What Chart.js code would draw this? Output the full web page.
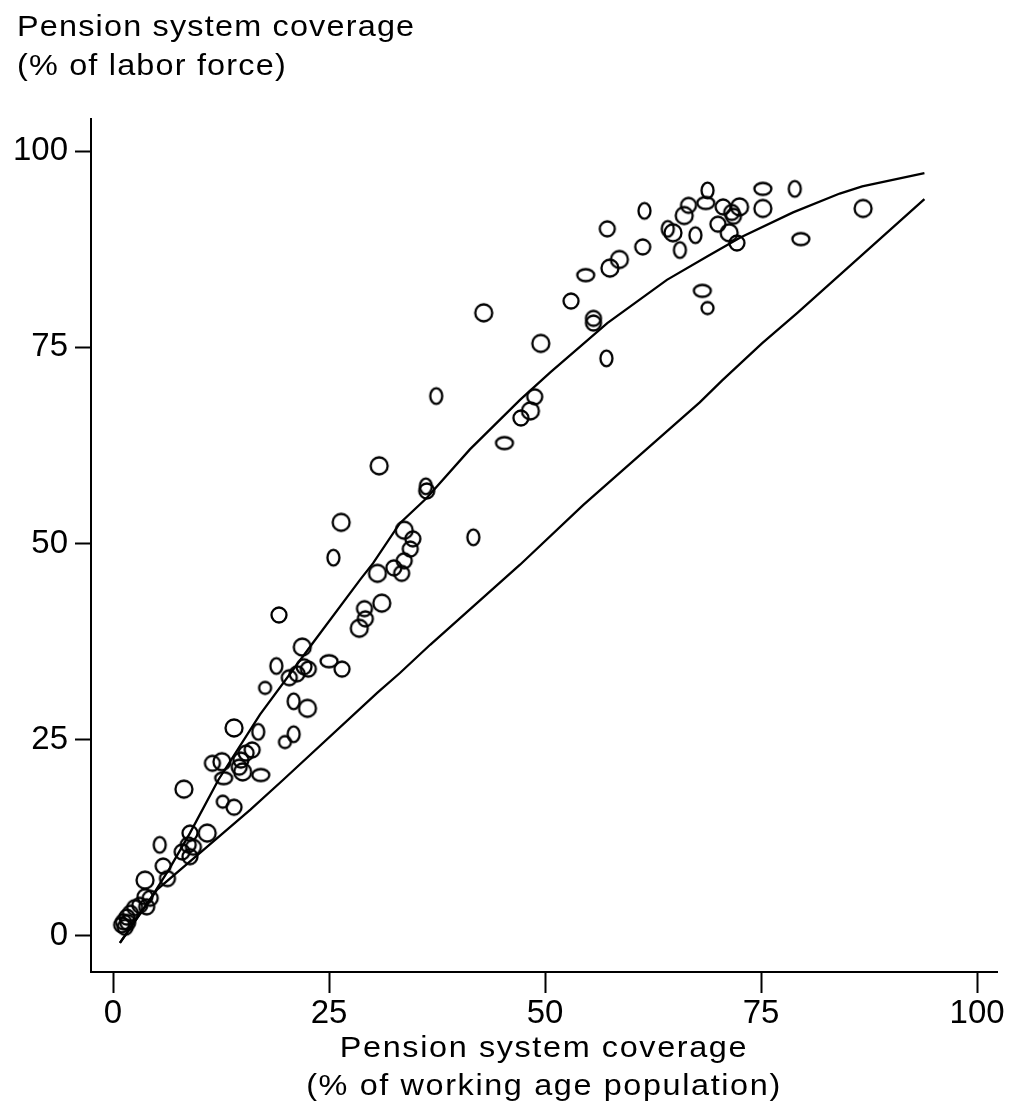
<!DOCTYPE html>
<html>
<head>
    <title>Pension system coverage</title>
    <script src="https://cdn.jsdelivr.net/npm/chart.js"></script>
    <style>
        body { margin: 0; background: #fff; }
        #wrap { position: relative; width: 1015px; height: 1109px; }
        .ttl { position: absolute; font-family: 'Liberation Sans', Arial, sans-serif; font-size: 30px;
               color: #000; white-space: nowrap; }
        #ytitle { left: 17px; top: 6px; line-height: 39px; letter-spacing: 1.1px;
                  transform: scaleX(1.08); transform-origin: left top; }
        #xtitle { left: 91px; width: 906px; top: 1028px; line-height: 38px; text-align: center; letter-spacing: 1.5px;
                  transform: scaleX(1.08); transform-origin: 453px 0; }
    </style>
</head>
<body>
<div id="wrap">
    <canvas id="covChart" width="1015" height="1109"></canvas>
    <div class="ttl" id="ytitle">Pension system coverage<br>(% of labor force)</div>
    <div class="ttl" id="xtitle">Pension system coverage<br>(% of working age population)</div>
</div>
<script>
// countries: coverage as % of working age population (x) vs % of labor force (y)
var coverX = [49.5, 53.0, 54.7, 55.6, 55.6, 57.1, 57.2, 57.5, 58.6, 61.3, 61.5, 64.2, 64.8, 65.6, 66.1, 66.6,
    67.4, 68.8, 68.6, 68.2, 68.8, 70.0, 70.6, 71.3, 71.6, 71.8, 72.5, 72.2, 75.2, 75.2, 78.9, 79.6, 86.8,
    42.9, 37.4, 30.8, 36.2, 36.3, 48.8, 48.3, 47.2, 45.3, 26.4, 25.5, 33.7, 34.7, 34.4, 33.7, 32.5, 33.4,
    30.6, 41.7,
    19.2, 21.9, 18.9, 22.1, 22.6, 21.3, 20.4, 25.0, 26.5, 17.6, 20.9, 22.5, 20.9, 19.9, 14.0, 16.8, 16.1,
    15.4, 14.8, 12.6, 11.5, 14.6, 15.0, 12.8, 17.1, 8.2, 12.7, 14.0, 31.1, 29.1, 29.2, 28.5,
    5.4, 8.9, 10.9, 8.7, 9.3, 8.0, 8.9, 5.8, 6.3, 3.7, 3.7, 4.3, 3.1, 3.9, 2.5, 2.0, 1.6, 1.2, 1.0, 1.7, 1.4];
var coverY = [75.5, 80.9, 84.2, 78.7, 78.1, 73.6, 90.1, 85.1, 86.2, 87.8, 92.4, 90.1, 89.6, 87.4, 91.8, 93.1,
    89.3, 95.0, 93.4, 82.2, 80.0, 90.7, 92.9, 89.6, 92.2, 91.7, 92.9, 88.3, 95.2, 92.7, 95.2, 88.8, 92.7,
    79.4, 68.8, 59.9, 57.3, 56.7, 68.7, 66.9, 66.0, 62.8, 52.7, 48.2, 51.7, 50.6, 49.3, 47.8, 46.9, 46.2,
    46.2, 50.8,
    40.9, 36.8, 34.4, 34.3, 34.0, 33.4, 32.9, 35.0, 34.0, 31.6, 29.9, 29.0, 25.7, 24.7, 26.5, 26.0, 23.7,
    23.3, 22.4, 22.2, 22.0, 21.5, 20.9, 20.1, 20.5, 18.7, 17.1, 16.4, 42.4, 41.7, 40.4, 39.2,
    11.6, 13.1, 13.1, 11.6, 11.3, 10.7, 10.1, 8.9, 7.3, 7.1, 5.0, 4.8, 3.9, 3.7, 3.6, 2.9, 2.4, 1.8, 1.4, 1.7, 1.1];
// o = circle, b = big circle, s = small circle, v = tall ellipse, h = wide ellipse
var markShape = ['b','o','h','o','o','v','o','b','b','o','v','v','b','v','b','o',
    'v','v','h','h','s','o','o','b','o','o','b','o','h','b','v','h','b',
    'b','v','b','v','o','o','b','o','h','b','v','b','o','o','o','o','o',
    'b','v',
    'o','b','v','o','o','o','o','h','o','s','v','b','v','s','b','v','o',
    'o','o','b','o','o','b','h','h','b','s','o','b','o','o','b',
    'v','o','b','o','o','o','o','o','o','b','o','o','o','o','o','o','o','o','o','o','o'];

var upperX = [0.8, 4.6, 6.6, 8.9, 12.2, 17.0, 23.1, 28.6, 30.1, 33.2, 36.3, 41.3, 47.1, 50.6, 57.2, 64.1, 68.8, 72.6, 78.7, 84.1, 86.7, 93.9];
var upperY = [-0.9, 5.2, 8.7, 13.1, 19.9, 28.2, 37.3, 45.4, 47.5, 52.6, 55.8, 62.0, 68.3, 71.8, 78.1, 83.6, 86.6, 89.0, 92.2, 94.6, 95.5, 97.2];
var lowerX = [0.8, 5.1, 10.1, 15.9, 19.7, 30.6, 33.2, 36.7, 47.1, 54.4, 61.0, 67.9, 70.5, 75.1, 79.2, 93.9];
var lowerY = [-0.9, 5.9, 10.6, 16.1, 19.9, 31.0, 33.5, 37.1, 47.3, 54.9, 61.3, 68.0, 70.8, 75.5, 79.4, 93.9];

var xTicks = [0, 25, 50, 75, 100];
var yTicks = [0, 25, 50, 75, 100];

var fontFam = "'Liberation Sans', Arial, sans-serif";

function stamp(rx, ry) {
    var c = document.createElement('canvas');
    c.width = Math.ceil(2 * rx + 5);
    c.height = Math.ceil(2 * ry + 5);
    var g = c.getContext('2d');
    g.lineWidth = 2.3;
    g.strokeStyle = '#000';
    g.beginPath();
    g.ellipse(c.width / 2, c.height / 2, rx, ry, 0, 0, 2 * Math.PI);
    g.stroke();
    return c;
}
var stamps = { o: stamp(7.5, 7.5), b: stamp(8.5, 8.5), s: stamp(6, 6), v: stamp(6, 7.8), h: stamp(8.5, 6) };

function xy(xs, ys) {
    return xs.map(function (v, i) { return { x: v, y: ys[i] }; });
}

new Chart(document.getElementById('covChart'), {
    type: 'scatter',
    data: {
        datasets: [{
            data: xy(coverX, coverY),
            pointStyle: markShape.map(function (k) { return stamps[k]; }),
            pointRadius: 8
        }, {
            data: xy(upperX, upperY),
            showLine: true, pointRadius: 0, borderColor: '#000', borderWidth: 2.3, fill: false
        }, {
            data: xy(lowerX, lowerY),
            showLine: true, pointRadius: 0, borderColor: '#000', borderWidth: 2.3, fill: false
        }]
    },
    options: {
        responsive: false,
        animation: false,
        layout: { padding: { top: 119, right: 18, left: 0, bottom: 0 } },
        plugins: { legend: { display: false }, tooltip: { enabled: false } },
        scales: {
            x: {
                type: 'linear', min: -2.55, max: 102.3,
                afterBuildTicks: function (s) { s.ticks = xTicks.map(function (v) { return { value: v }; }); },
                afterFit: function (s) { s.height = 137; },
                grid: { drawOnChartArea: false, drawTicks: true, tickLength: 21, tickWidth: 2, tickColor: '#000', color: '#000' },
                border: { display: true, color: '#000', width: 2 },
                ticks: { color: '#000', padding: 1, maxRotation: 0, autoSkip: false, font: { size: 33, family: fontFam } }
            },
            y: {
                type: 'linear', min: -4.6, max: 104.1,
                afterBuildTicks: function (s) { s.ticks = yTicks.map(function (v) { return { value: v }; }); },
                afterFit: function (s) { s.width = 91; },
                grid: { drawOnChartArea: false, drawTicks: true, tickLength: 16, tickWidth: 2, tickColor: '#000', color: '#000' },
                border: { display: true, color: '#000', width: 2 },
                ticks: { color: '#000', padding: 7, autoSkip: false, font: { size: 33, family: fontFam } }
            }
        }
    }
});
</script>
</body>
</html>
